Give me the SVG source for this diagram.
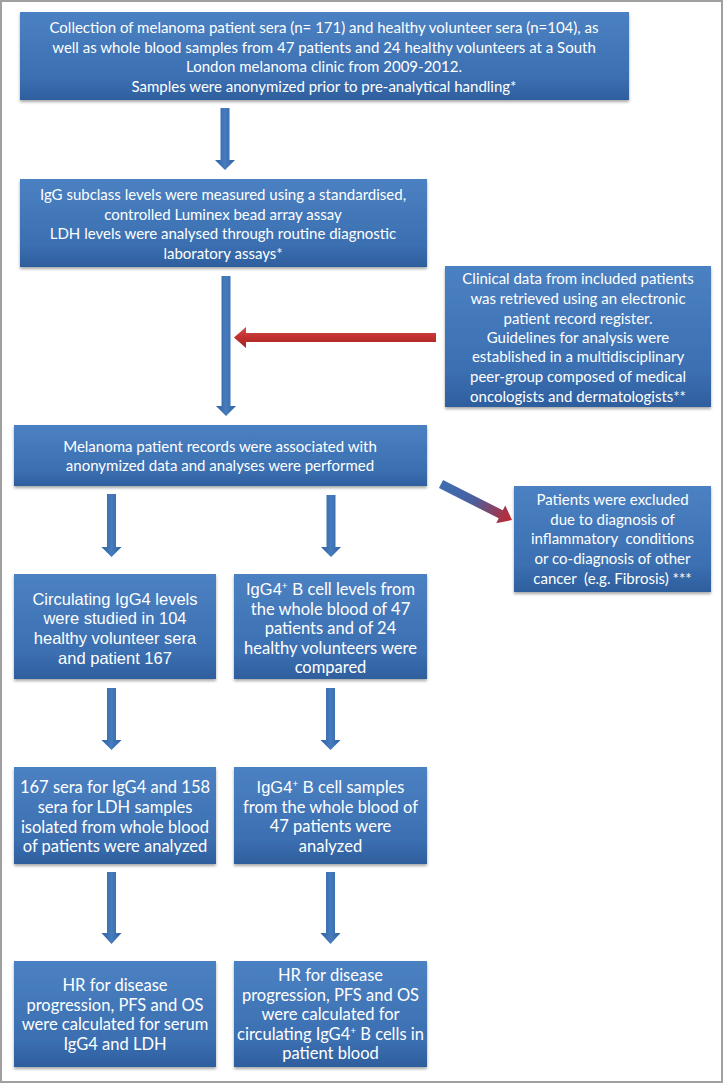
<svg xmlns="http://www.w3.org/2000/svg" width="724" height="1084" viewBox="0 0 724 1084">
<defs>
  <linearGradient id="boxg" x1="0" y1="0" x2="0" y2="1">
    <stop offset="0" stop-color="#4b81c2"/>
    <stop offset="0.75" stop-color="#3b6fb1"/>
    <stop offset="1" stop-color="#2e5e9d"/>
  </linearGradient>
  <linearGradient id="arrg" x1="0" y1="0" x2="1" y2="0">
    <stop offset="0" stop-color="#2f62a3"/>
    <stop offset="0.5" stop-color="#467bbd"/>
    <stop offset="1" stop-color="#2f62a3"/>
  </linearGradient>
  <linearGradient id="redg" x1="0" y1="0" x2="0" y2="1">
    <stop offset="0" stop-color="#d64c4a"/>
    <stop offset="0.5" stop-color="#c0302e"/>
    <stop offset="1" stop-color="#a02424"/>
  </linearGradient>
  <linearGradient id="diag" x1="0" y1="0" x2="1" y2="0">
    <stop offset="0" stop-color="#3d6fb1"/>
    <stop offset="0.45" stop-color="#4a5fa0"/>
    <stop offset="1" stop-color="#c0282d"/>
  </linearGradient>
  <filter id="sh" x="-5%" y="-5%" width="110%" height="120%">
    <feDropShadow dx="0" dy="2" stdDeviation="1.5" flood-color="#000" flood-opacity="0.35"/>
  </filter>
  <style>
    .box { fill: url(#boxg); filter: url(#sh); }
    .t { fill: #ffffff; font-family: Lato, "Liberation Sans", sans-serif; font-size: 15px; text-anchor: middle; }
    .tb { fill: #ffffff; font-family: Lato, "Liberation Sans", sans-serif; font-size: 16.5px; text-anchor: middle; }
    .th { fill: #ffffff; font-family: "Liberation Sans", Arial, sans-serif; font-size: 16.5px; text-anchor: middle; }
    .hv { font-family: "Liberation Sans", Arial, sans-serif; }
    .sup { font-size: 10px; }
    .arr { fill: url(#arrg); }
    .red { fill: url(#redg); }
  </style>
</defs>

<rect x="1" y="1" width="721" height="1081" fill="#ffffff" stroke="#a0a0a0" stroke-width="2"/>

<g id="connectors">
  <polygon class="arr" points="220.5,108 229.5,108 229.5,160 235,160 225,170 215,160 220.5,160"/>
  <polygon class="arr" points="221.5,276 230.5,276 230.5,406 236,406 226,416 216,406 221.5,406"/>
  <polygon class="arr" points="107,494 116,494 116,547 121.5,547 111.5,557 101.5,547 107,547"/>
  <polygon class="arr" points="326.5,495 335.5,495 335.5,547 341,547 331,557 321,547 326.5,547"/>
  <polygon class="arr" points="107,688 116,688 116,740 121.5,740 111.5,750 101.5,740 107,740"/>
  <polygon class="arr" points="326,688 335,688 335,740 340.5,740 330.5,750 320.5,740 326,740"/>
  <polygon class="arr" points="107,872 116,872 116,933 121.5,933 111.5,944 101.5,933 107,933"/>
  <polygon class="arr" points="326,872 335,872 335,933 340.5,933 330.5,944 320.5,933 326,933"/>
  <polygon class="red" points="436,333 436,342 246,342 246,348 234,337.5 246,327 246,333"/>
  <g transform="translate(441,484) rotate(26.9)">
    <polygon fill="url(#diag)" points="0,-4.5 67,-4.5 67,-10 79.6,0 67,10 67,4.5 0,4.5"/>
  </g>
</g>

<g id="n1">
  <rect class="box" x="20" y="12" width="609" height="88"/>
  <text class="t" x="324" y="33">Collection of melanoma patient sera (n= 171) and healthy volunteer sera (n=104), as</text>
  <text class="t" x="324" y="53">well as whole blood samples from 47 patients and 24 healthy volunteers at a South</text>
  <text class="t" x="324" y="72">London melanoma clinic from 2009-2012.</text>
  <text class="t" x="324" y="92">Samples were anonymized prior to pre-analytical handling*</text>
</g>

<g id="n2">
  <rect class="box" x="20" y="179" width="407" height="88"/>
  <text class="t" x="223" y="200">IgG subclass levels were measured using a standardised,</text>
  <text class="t" x="223" y="220">controlled Luminex bead array assay</text>
  <text class="t" x="223" y="239">LDH levels were analysed through routine diagnostic</text>
  <text class="t" x="223" y="259">laboratory assays*</text>
</g>

<g id="n3">
  <rect class="box" x="445" y="266" width="266" height="141"/>
  <text class="t" x="578" y="284">Clinical data from included patients</text>
  <text class="t" x="578" y="304">was retrieved using an electronic</text>
  <text class="t" x="578" y="324">patient record register.</text>
  <text class="t" x="578" y="343">Guidelines for analysis were</text>
  <text class="t" x="578" y="362">established in a multidisciplinary</text>
  <text class="t" x="578" y="382">peer-group composed of medical</text>
  <text class="t" x="578" y="402">oncologists and dermatologists**</text>
</g>

<g id="n4">
  <rect class="box" x="14" y="425" width="413" height="61"/>
  <text class="t" x="220" y="452">Melanoma patient records were associated with</text>
  <text class="t" x="220" y="471">anonymized data and analyses were performed</text>
</g>

<g id="n5">
  <rect class="box" x="514" y="486" width="197" height="106"/>
  <text class="t" x="612.5" y="505">Patients were excluded</text>
  <text class="t" x="612.5" y="525">due to diagnosis of</text>
  <text class="t" x="612.5" y="544" xml:space="preserve">inflammatory  conditions</text>
  <text class="t" x="612.5" y="564">or co-diagnosis of other</text>
  <text class="t" x="612.5" y="584" xml:space="preserve">cancer  (e.g. Fibrosis) ***</text>
</g>

<g id="n6">
  <rect class="box" x="14" y="574" width="202" height="105"/>
  <text class="th" x="115" y="605">Circulating IgG4 levels</text>
  <text class="th" x="115" y="624">were studied in 104</text>
  <text class="th" x="115" y="644">healthy volunteer sera</text>
  <text class="th" x="115" y="664">and patient 167</text>
</g>

<g id="n7">
  <rect class="box" x="234" y="574" width="193" height="105"/>
  <text class="tb" x="330.5" y="595"><tspan class="hv">IgG4</tspan><tspan class="sup" baseline-shift="super">+</tspan><tspan class="hv"> B</tspan> cell levels from</text>
  <text class="tb" x="330.5" y="615">the whole blood of 47</text>
  <text class="tb" x="330.5" y="634">patients and of 24</text>
  <text class="tb" x="330.5" y="654">healthy volunteers were</text>
  <text class="tb" x="330.5" y="673">compared</text>
</g>

<g id="n8">
  <rect class="box" x="14" y="767" width="202" height="97"/>
  <text class="tb" x="115" y="793">167 sera for IgG4 and 158</text>
  <text class="tb" x="115" y="813">sera for LDH samples</text>
  <text class="tb" x="115" y="833">isolated from whole blood</text>
  <text class="tb" x="115" y="852">of patients were analyzed</text>
</g>

<g id="n9">
  <rect class="box" x="234" y="767" width="193" height="97"/>
  <text class="tb" x="330.5" y="793"><tspan class="hv">IgG4</tspan><tspan class="sup" baseline-shift="super">+</tspan><tspan class="hv"> B</tspan> cell samples</text>
  <text class="tb" x="330.5" y="813">from the whole blood of</text>
  <text class="tb" x="330.5" y="832">47 patients were</text>
  <text class="tb" x="330.5" y="852">analyzed</text>
</g>

<g id="n10">
  <rect class="box" x="14" y="961" width="202" height="106"/>
  <text class="tb" x="115" y="991">HR for disease</text>
  <text class="tb" x="115" y="1011">progression, PFS and OS</text>
  <text class="tb" x="115" y="1030">were calculated for serum</text>
  <text class="tb" x="115" y="1050">IgG4 and LDH</text>
</g>

<g id="n11">
  <rect class="box" x="234" y="961" width="193" height="106"/>
  <text class="tb" x="330.5" y="981">HR for disease</text>
  <text class="tb" x="330.5" y="1001">progression, PFS and OS</text>
  <text class="tb" x="330.5" y="1020">were calculated for</text>
  <text class="tb" x="330.5" y="1040">circulating IgG4<tspan class="sup" baseline-shift="super">+</tspan> B cells in</text>
  <text class="tb" x="330.5" y="1059">patient blood</text>
</g>
</svg>
